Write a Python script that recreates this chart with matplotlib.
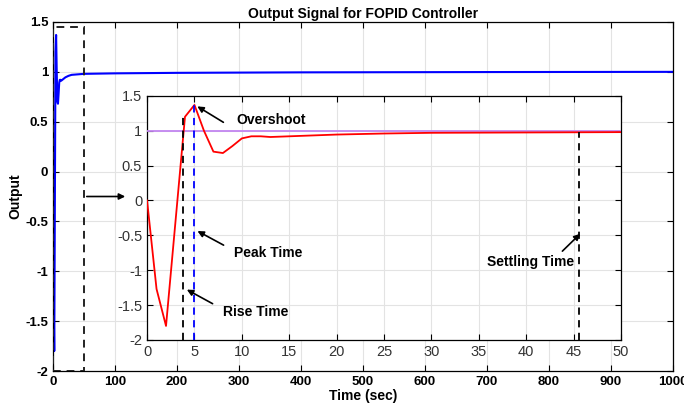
import matplotlib
matplotlib.use("Agg")
import matplotlib.pyplot as plt
from matplotlib.patches import Rectangle

plt.rcParams['font.family'] = ['Liberation Sans', 'DejaVu Sans']

# Response samples (time in sec, output)
t_early = [0, 1, 2, 3, 4, 5, 6, 7, 8, 9, 10, 11, 12, 13, 15, 20, 25, 30, 40, 50]
y_early = [0, -1.27, -1.80, -0.30, 1.20, 1.37, 1.00, 0.70, 0.68, 0.78, 0.89, 0.92,
           0.92, 0.91, 0.92, 0.945, 0.96, 0.97, 0.975, 0.98]
t_late = [100, 200, 400, 700, 1000]
y_late = [0.985, 0.99, 0.995, 0.998, 1.0]

rise_time = 3.83
peak_time = 5.0
peak_value = 1.37
settling_time = 45.6
reference = 1.0

main_xticks = [0, 100, 200, 300, 400, 500, 600, 700, 800, 900, 1000]
main_yticks = [-2, -1.5, -1, -0.5, 0, 0.5, 1, 1.5]
inset_xticks = [0, 5, 10, 15, 20, 25, 30, 35, 40, 45, 50]
ytick_labels = ['-2', '-1.5', '-1', '-0.5', '0', '0.5', '1', '1.5']

fig = plt.figure(figsize=(6.84, 4.15), dpi=100)
ax = fig.add_axes([0.0775, 0.106, 0.906, 0.841])
t_all = t_early + t_late
y_all = y_early + y_late
ax.plot(t_all, y_all, color='#0000ff', lw=1.5)
ax.set_xlim(0, 1000)
ax.set_ylim(-2, 1.5)
ax.set_xticks(main_xticks)
ax.set_yticks(main_yticks)
ax.set_yticklabels(ytick_labels)
ax.grid(True, color='#e3e3e3', lw=0.8)
ax.set_axisbelow(True)
ax.tick_params(direction='in', top=True, right=True, labelsize=9.5, length=4, width=0.8)
for lab in ax.get_xticklabels() + ax.get_yticklabels():
    lab.set_fontweight('bold')
ax.set_title('Output Signal for FOPID Controller', fontsize=10, fontweight='bold', pad=3)
ax.set_xlabel('Time (sec)', fontsize=10, fontweight='bold', labelpad=1)
ax.set_ylabel('Output', fontsize=10, fontweight='bold', labelpad=2)
for s in ax.spines.values():
    s.set_linewidth(0.9)

ax.add_patch(Rectangle((0, -2), 50, 3.45, fill=False, ls=(0, (4, 3)), lw=1.4, color='#222222', zorder=5))
ax.annotate('', xy=(121, -0.25), xytext=(50, -0.25),
            arrowprops=dict(arrowstyle='-|>', color='black', lw=1.2, mutation_scale=9))

ins = fig.add_axes([0.215, 0.181, 0.693, 0.588])
ins.plot(t_early, y_early, color='#ff0000', lw=1.3, zorder=4)
ins.axhline(reference, color='#c285f0', lw=1.3, zorder=3)
ins.plot([rise_time, rise_time], [-2, 1.2], color='black', ls=(0, (4, 3)), lw=1.3, zorder=5)
ins.plot([peak_time, peak_time], [-2, peak_value], color='#0000ff', ls=(0, (4, 3)), lw=1.3, zorder=5)
ins.plot([settling_time, settling_time], [-2, 0.98], color='black', ls=(0, (4, 3)), lw=1.3, zorder=5)
ins.set_xlim(0, 50)
ins.set_ylim(-2, 1.5)
ins.set_xticks(inset_xticks)
ins.set_yticks(main_yticks)
ins.set_yticklabels(ytick_labels)
ins.grid(True, color='#e3e3e3', lw=0.8)
ins.set_axisbelow(True)
ins.tick_params(direction='in', top=True, right=True, labelsize=10.5, labelcolor='#333333', length=4, width=0.8)
for s in ins.spines.values():
    s.set_linewidth(0.9)

ap = dict(arrowstyle='-|>', color='black', lw=1.2, mutation_scale=9)
ins.annotate('', xy=(5.05, 1.37), xytext=(8.3, 1.10), arrowprops=ap)
ins.text(9.4, 1.16, 'Overshoot', fontsize=10, fontweight='bold', va='center', ha='left')
ins.annotate('', xy=(5.06, -0.42), xytext=(8.33, -0.66), arrowprops=ap)
ins.text(9.2, -0.757, 'Peak Time', fontsize=10, fontweight='bold', va='center', ha='left')
ins.annotate('', xy=(3.94, -1.26), xytext=(7.17, -1.5), arrowprops=ap)
ins.text(8.05, -1.60, 'Rise Time', fontsize=10, fontweight='bold', va='center', ha='left')
ins.annotate('', xy=(45.9, -0.45), xytext=(43.6, -0.755), arrowprops=ap)
ins.text(35.9, -0.88, 'Settling Time', fontsize=10, fontweight='bold', va='center', ha='left')

fig.savefig('out.png', dpi=100)
